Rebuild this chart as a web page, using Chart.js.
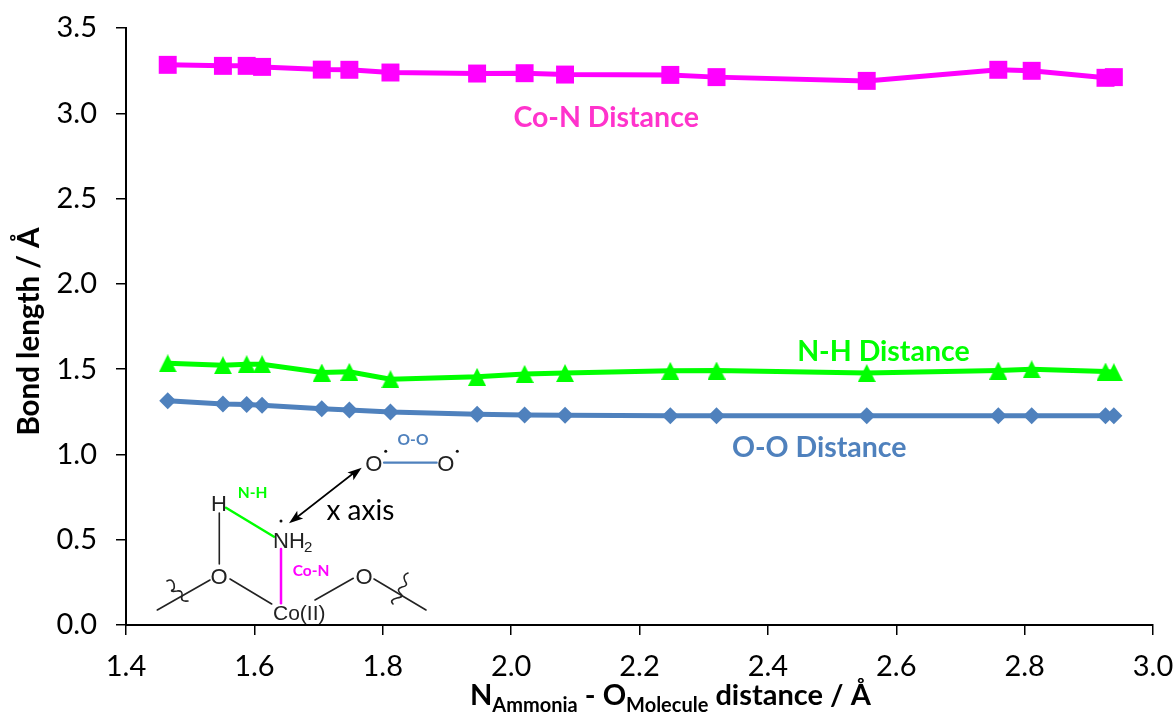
<!DOCTYPE html>
<html>
<head>
<meta charset="utf-8">
<style>
  html, body { margin: 0; padding: 0; background: #fff; }
  canvas { display: block; }
</style>
<script src="https://cdn.jsdelivr.net/npm/chart.js@4"></script>
</head>
<body>
<canvas id="myChart" width="1176" height="715"></canvas>
<script>
// values
const nODistance = [1.465, 1.551, 1.588, 1.612, 1.705, 1.748, 1.812, 1.947, 2.021, 2.084, 2.248, 2.320, 2.554, 2.759, 2.811, 2.926, 2.939];
const coN = [3.284, 3.278, 3.278, 3.272, 3.256, 3.255, 3.239, 3.233, 3.235, 3.227, 3.225, 3.212, 3.190, 3.255, 3.249, 3.208, 3.212];
const nH = [1.534, 1.523, 1.529, 1.529, 1.480, 1.484, 1.441, 1.455, 1.472, 1.477, 1.490, 1.492, 1.477, 1.492, 1.499, 1.486, 1.482];
const oO = [1.314, 1.296, 1.292, 1.288, 1.268, 1.261, 1.249, 1.235, 1.231, 1.230, 1.227, 1.227, 1.227, 1.227, 1.227, 1.227, 1.227];

const FONT = 'Lato, "Open Sans", sans-serif';
const INSET_FONT = '"Liberation Sans", Arial, sans-serif';

function points(ys) {
    return nODistance.map((x, i) => ({ x: x, y: ys[i] }));
}

// triangle marker centred on its box, the built-in one sits too high
function triangleMarker(color) {
    const c = document.createElement('canvas');
    c.width = 18;
    c.height = 18;
    const g = c.getContext('2d');
    g.fillStyle = color;
    g.beginPath();
    g.moveTo(9, 0);
    g.lineTo(18, 18);
    g.lineTo(0, 18);
    g.closePath();
    g.fill();
    return c;
}

function line(ctx, x1, y1, x2, y2) {
    ctx.beginPath();
    ctx.moveTo(x1, y1);
    ctx.lineTo(x2, y2);
    ctx.stroke();
}

function label(ctx, text, x, y, font, color, align) {
    ctx.font = font;
    ctx.fillStyle = color;
    ctx.textAlign = align || 'center';
    ctx.textBaseline = 'alphabetic';
    ctx.fillText(text, x, y);
}

function arrowHead(ctx, x, y, fromX, fromY) {
    const a = Math.atan2(y - fromY, x - fromX);
    ctx.beginPath();
    ctx.moveTo(x, y);
    ctx.lineTo(x - 15 * Math.cos(a - 0.33), y - 15 * Math.sin(a - 0.33));
    ctx.lineTo(x - 11 * Math.cos(a), y - 11 * Math.sin(a));
    ctx.lineTo(x - 15 * Math.cos(a + 0.33), y - 15 * Math.sin(a + 0.33));
    ctx.closePath();
    ctx.fill();
}

function squiggle(ctx, pts) {
    ctx.beginPath();
    ctx.moveTo(pts[0], pts[1]);
    for (let i = 2; i + 3 < pts.length; i += 4) {
        ctx.quadraticCurveTo(pts[i], pts[i + 1], pts[i + 2], pts[i + 3]);
    }
    ctx.stroke();
}

// series names, axis titles and the little molecule sketch
const annotations = {
    id: 'annotations',
    afterDraw(chart) {
        const ctx = chart.ctx;
        const sx = chart.scales.x;
        const sy = chart.scales.y;
        ctx.save();

        label(ctx, 'Co-N Distance', sx.getPixelForValue(2.148), sy.getPixelForValue(2.92), 'bold 28.5px ' + FONT, '#FF33CC');
        label(ctx, 'N-H Distance', sx.getPixelForValue(2.58), sy.getPixelForValue(1.545), 'bold 28.5px ' + FONT, '#00FF00');
        label(ctx, 'O-O Distance', sx.getPixelForValue(2.48), sy.getPixelForValue(0.985), 'bold 28.5px ' + FONT, '#4F81BD');

        // x axis title with subscripts
        let tx = 470;
        [['N', 29, 705], ['Ammonia', 20, 712], [' - O', 29, 705], ['Molecule', 20, 712], [' distance / Å', 29, 705]].forEach(p => {
            label(ctx, p[0], tx, p[2], 'bold ' + p[1] + 'px ' + FONT, '#000', 'left');
            tx += ctx.measureText(p[0]).width;
        });

        // y axis title
        ctx.save();
        ctx.translate(39, 331.5);
        ctx.rotate(-Math.PI / 2);
        label(ctx, 'Bond length / Å', 0, 0, 'bold 29.5px ' + FONT, '#000');
        ctx.restore();

        // molecule
        ctx.lineCap = 'round';
        ctx.strokeStyle = '#222';
        ctx.lineWidth = 1.6;
        line(ctx, 219.3, 513, 219.3, 564);
        line(ctx, 230, 579, 271.7, 604);
        line(ctx, 210, 580, 157.3, 610);
        line(ctx, 315, 600, 353.3, 578.3);
        line(ctx, 374, 579, 426, 610);
        squiggle(ctx, [167, 581, 172, 578, 174, 584, 175, 590, 172, 590, 170, 592, 177, 591, 183, 590, 182, 596, 180, 602, 188, 601, 195, 600]);
        squiggle(ctx, [408, 573, 402, 575, 405, 581, 409, 586, 402, 587, 396, 589, 400, 593, 405, 597, 397, 598, 389, 600, 393, 604, 396, 606]);

        ctx.lineWidth = 1.6;
        ctx.strokeStyle = '#000';
        ctx.fillStyle = '#000';
        line(ctx, 355, 472, 296, 518);
        arrowHead(ctx, 361.7, 467.7, 296, 518);
        arrowHead(ctx, 289, 523.3, 355, 472);

        ctx.lineWidth = 2.2;
        ctx.strokeStyle = '#4F81BD';
        line(ctx, 384, 462.7, 436.7, 462.7);
        ctx.lineWidth = 2.5;
        ctx.strokeStyle = '#00FF00';
        line(ctx, 226, 507.7, 274, 536.7);
        ctx.strokeStyle = '#FF00FF';
        line(ctx, 281, 549, 281, 603.3);

        const atom = '22px ' + INSET_FONT;
        const ink = '#222';
        label(ctx, 'O', 373.7, 471, atom, ink);
        label(ctx, 'O', 445.7, 471, atom, ink);
        label(ctx, 'H', 219, 511, atom, ink);
        label(ctx, 'O', 219, 583.5, atom, ink);
        label(ctx, 'O', 364, 583.5, atom, ink);
        label(ctx, 'NH', 273, 548, atom, ink, 'left');
        label(ctx, '2', 304, 552, '15px ' + INSET_FONT, ink, 'left');
        label(ctx, 'Co(II)', 273, 620, '21px ' + INSET_FONT, ink, 'left');
        [[385.7, 451.3], [457.3, 451.3], [281, 521]].forEach(d => {
            ctx.fillStyle = '#111';
            ctx.beginPath();
            ctx.arc(d[0], d[1], 1.5, 0, Math.PI * 2);
            ctx.fill();
        });

        label(ctx, 'x axis', 326.5, 520, '28px ' + FONT, '#000', 'left');
        label(ctx, 'O-O', 413, 445, 'bold 15.5px ' + FONT, '#4F81BD');
        label(ctx, 'N-H', 252.7, 498, 'bold 15.5px ' + FONT, '#00FF00');
        label(ctx, 'Co-N', 311, 576, 'bold 15.5px ' + FONT, '#FF00FF');

        ctx.restore();
    }
};

const ctx = document.getElementById('myChart').getContext('2d');
const chart = new Chart(ctx, {
    type: 'line',
    data: {
        datasets: [
            { label: 'O-O Distance', data: points(oO), borderColor: '#4F81BD', backgroundColor: '#4F81BD', pointStyle: 'rectRot', pointRadius: 8.5 },
            { label: 'N-H Distance', data: points(nH), borderColor: '#00FF00', backgroundColor: '#00FF00', pointStyle: triangleMarker('#00FF00') },
            { label: 'Co-N Distance', data: points(coN), borderColor: '#FF00FF', backgroundColor: '#FF00FF', pointStyle: 'rect', pointRadius: 12.7 }
        ]
    },
    options: {
        responsive: false,
        animation: false,
        layout: { padding: { top: 28, right: 23, left: 0, bottom: 0 } },
        elements: {
            line: { borderWidth: 5, tension: 0 },
            point: { borderWidth: 0 }
        },
        plugins: {
            legend: { display: false },
            tooltip: { enabled: false }
        },
        scales: {
            x: {
                type: 'linear',
                min: 1.4,
                max: 3.0,
                // fixed box so the plot area lands where the reference has it
                afterFit(scale) {
                    scale.height = 90;
                    scale.paddingLeft = 0;
                    scale.paddingRight = 0;
                },
                border: { color: '#000', width: 2 },
                grid: { drawOnChartArea: false, color: '#000', lineWidth: 1.5, tickLength: 10 },
                ticks: {
                    stepSize: 0.2,
                    maxRotation: 0,
                    padding: 14,
                    color: '#000',
                    font: { family: FONT, size: 29 },
                    callback: v => v.toFixed(1)
                }
            },
            y: {
                min: 0,
                max: 3.5,
                afterFit(scale) {
                    scale.width = 126;
                    scale.paddingTop = 0;
                    scale.paddingBottom = 0;
                },
                border: { color: '#000', width: 2 },
                grid: { drawOnChartArea: false, color: '#000', lineWidth: 1.5, tickLength: 10 },
                ticks: {
                    stepSize: 0.5,
                    padding: 19,
                    color: '#000',
                    font: { family: FONT, size: 29 },
                    callback: v => v.toFixed(1)
                }
            }
        }
    },
    plugins: [annotations]
});
</script>
</body>
</html>
